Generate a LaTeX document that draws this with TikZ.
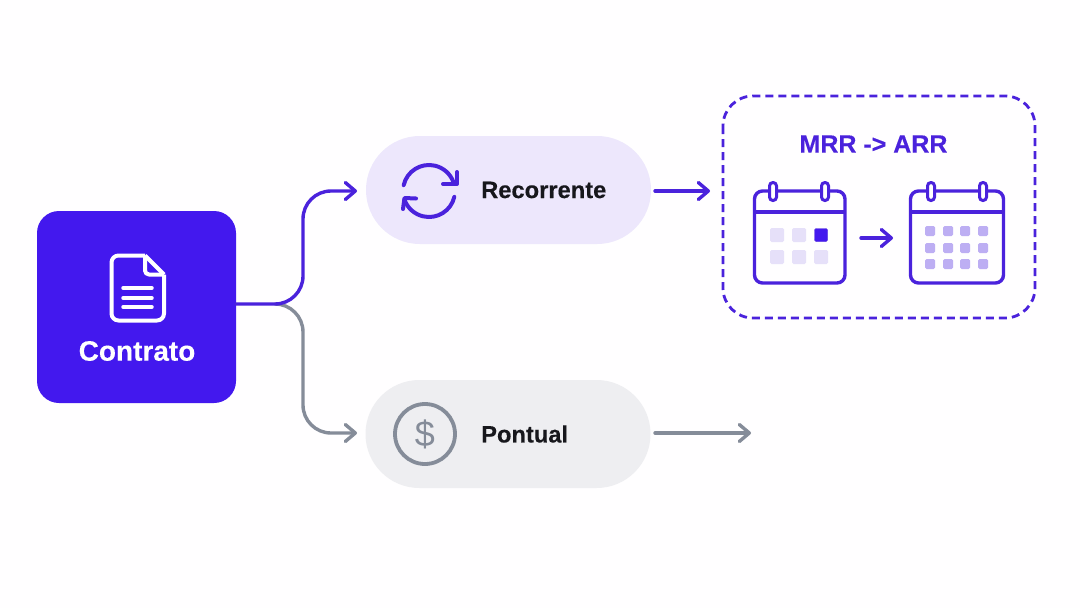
\documentclass[tikz,border=0pt]{standalone}
\usepackage{fontspec}
\setmainfont{Liberation Sans}[BoldFeatures={FakeBold=0.3}]
\usetikzlibrary{arrows.meta}
\definecolor{violet}{HTML}{4318EE}
\definecolor{violetline}{HTML}{4A22DC}
\definecolor{violetpale}{HTML}{EDE7FC}
\definecolor{violetsoft}{HTML}{BDAEF3}
\definecolor{violetlight}{HTML}{E6E0F9}
\definecolor{greyline}{HTML}{858C99}
\definecolor{greypale}{HTML}{EEEEF1}
\definecolor{ink}{HTML}{17171C}
\tikzset{%
  % Specifications for style of nodes:
    pill/.style = {rectangle, rounded corners=53.9pt, minimum width=285pt,
                   minimum height=108pt, inner sep=0pt, outer sep=0pt},
    pilltext/.style = {anchor=west, inner sep=0pt, text=ink, font=\fontsize{23.7}{24}\selectfont\bfseries},
    flow/.style = {line width=3.4pt, line cap=round, rounded corners=28pt,
                   -{Straight Barb[length=10pt,width=17pt,line width=3.4pt,round]}},
    arrowline/.style = {line width=3.4pt, line cap=round,
                   -{Straight Barb[length=10pt,width=17pt,line width=3.4pt,round]}},
    calendar/.style = {draw=violetline, line width=3.4pt, rounded corners=8pt},
    ring/.style = {draw=violetline, fill=white, line width=3pt, rounded corners=3.4pt},
    day/.style = {rectangle, rounded corners=1.5pt, inner sep=0pt, outer sep=0pt}
}
\begin{document}
\begin{tikzpicture}[x=1pt,y=-1pt]
\useasboundingbox (0,0) rectangle (1080,608);
\fill[fill=white!60!violetpale!6] (0,0) rectangle (1080,608);

% main boxes
\node[fill=violet, rectangle, rounded corners=22pt, minimum width=199pt, minimum height=192pt,
      inner sep=0pt, outer sep=0pt] (contrato) at (136.5,307) {};
\node[pill, fill=violetpale] (recorrente) at (508.5,190) {};
\node[pill, fill=greypale] (pontual) at (508,434) {};
\node[pilltext] (recorrentetext) at (481,190) {Recorrente};
\node[pilltext] (pontualtext) at (481,434) {Pontual};
\node[text=white, inner sep=0pt, font=\fontsize{28}{28}\selectfont\bfseries] (contratotext) at (137,351) {Contrato};

% document icon
\draw[white, line width=4pt, line join=round, rounded corners=7pt]
  (145,255.5) -- (111.5,255.5) -- (111.5,320.5) -- (164,320.5) -- (164,274.5);
\draw[white, line width=4pt, line join=round] (145,255.5) -- (164,274.5);
\draw[white, line width=4pt, line join=round, rounded corners=4pt] (145,255.5) -- (145,274.5) -- (164,274.5);
\foreach \y in {288,298,307}
  \draw[white, line width=3.5pt, line cap=round] (123,\y) -- (152,\y);

% branches
\coordinate (split) at (275,304);
\coordinate (upbend) at (303,304);
\coordinate (upin) at (357,191);
\coordinate (downin) at (357,433);
\coordinate (upout) at (655,191);
\coordinate (upend) at (710,191);
\coordinate (downout) at (655,433);
\coordinate (downend) at (751,433);
\draw[flow, greyline] (split) -- (303,304) -- (303,433) -- (downin);
\draw[flow, violetline] (contrato.east |- split) -- (upbend) -- (303,191) -- (upin);
\draw[arrowline, violetline] (upout) -- (upend);
\draw[arrowline, greyline] (downout) -- (downend);

% refresh icon
\draw[violetline, line width=4pt, line cap=round] (429,191) ++(167:26pt) arc[start angle=167, end angle=20, radius=26pt];
\draw[violetline, line width=4pt, line cap=round] (429,191) ++(-13:26pt) arc[start angle=-13, end angle=-160, radius=26pt];
\draw[violetline, line width=4pt, line cap=round, line join=round] (457,172) -- (457,184) -- (443,184);
\draw[violetline, line width=4pt, line cap=round, line join=round] (403,209) -- (404.5,198) -- (416,198.5);

% dollar icon
\node[circle, draw=greyline, line width=3.8pt, minimum size=60pt, inner sep=0pt] (dollar) at (425,434)
  {\textcolor{greyline}{\fontsize{36}{36}\selectfont\$}};

% target frame
\draw[violetline, line width=2.8pt, rounded corners=30pt, dash pattern={on 8pt off 5pt}] (723,96) rectangle (1035,318);
\node[text=violetline, inner sep=0pt, font=\fontsize{25}{25}\selectfont\bfseries] (mrrarr) at (873.5,144) {MRR -> ARR};

% first calendar
\draw[calendar] (754.5,191) rectangle (845,283);
\draw[violetline, line width=3.4pt] (754.5,212) -- (845,212);
\foreach \x in {773,825}
  \draw[ring] (\x-3.5,182.5) rectangle (\x+3.5,200.5);
\foreach \x in {777,799}
  \node[day, fill=violetlight, minimum size=14pt] (dayA\x) at (\x,235) {};
\node[day, fill=violet, draw=violetline, minimum size=13pt] (dayAon) at (821,235) {};
\foreach \x in {777,799,821}
  \node[day, fill=violetlight, minimum size=14pt] (dayB\x) at (\x,257) {};

% second calendar
\draw[calendar] (910.5,191) rectangle (1003.5,283);
\draw[violetline, line width=3.4pt] (910.5,212) -- (1003.5,212);
\foreach \x in {931,983}
  \draw[ring] (\x-3.5,182.5) rectangle (\x+3.5,200.5);
\foreach \x in {930,948,965,983}
  \foreach \y in {231,248,264}
    \node[day, fill=violetsoft, minimum size=10pt] (day\x\y) at (\x,\y) {};

\coordinate (calout) at (861,238);
\coordinate (calin) at (893,238);
\draw[arrowline, violetline] (calout) -- (calin);
\end{tikzpicture}
\end{document}
